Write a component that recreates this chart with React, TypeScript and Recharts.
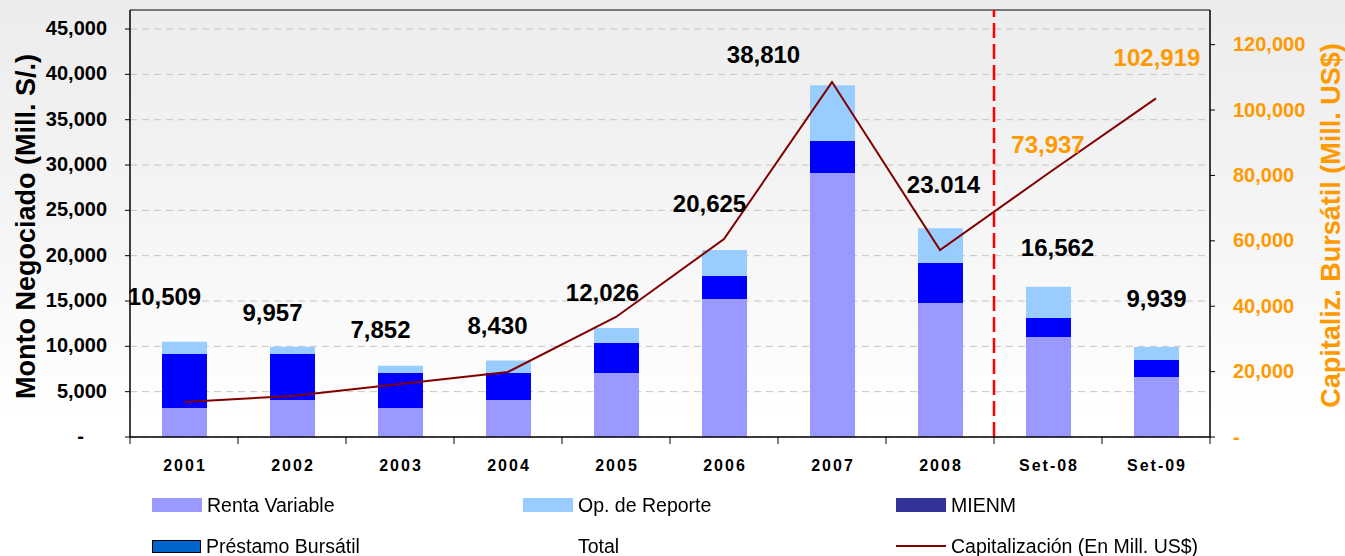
import {
  ComposedChart,
  Bar,
  Line,
  XAxis,
  YAxis,
  CartesianGrid,
  ReferenceLine,
  LabelList,
  Legend,
} from "recharts";

const categories = ["2001", "2002", "2003", "2004", "2005", "2006", "2007", "2008", "Set-08", "Set-09"];
const rentaVariable = [3200, 4080, 3200, 4080, 7060, 15220, 29120, 14780, 11030, 6620];
const rentaFija = [5950, 5075, 3860, 2980, 3310, 2540, 3530, 4410, 2100, 1870];
const opReporte = [1360, 800, 790, 1370, 1656, 2865, 6160, 3824, 3432, 1449];
const capitalizacion = [10700, 12540, 16200, 19900, 36700, 60550, 108560, 57180, 80600, 103580];
const totalLabels = ["10,509", "9,957", "7,852", "8,430", "12,026", "20,625", "38,810", "23.014", "16,562", "9,939"];
const capLabels = ["", "", "", "", "", "", "", "", "73,937", "102,919"];
const leftTicks = [0, 5000, 10000, 15000, 20000, 25000, 30000, 35000, 40000, 45000];
const rightTicks = [0, 20000, 40000, 60000, 80000, 100000, 120000];

const legendItems = [
  { name: "Renta Variable", kind: "box", color: "#9999FF", border: "none" },
  { name: "Op. de Reporte", kind: "box", color: "#99CCFF", border: "none" },
  { name: "MIENM", kind: "box", color: "#333399", border: "none" },
  { name: "Préstamo Bursátil", kind: "box", color: "#0066CC", border: "1.5px solid #000" },
  { name: "Total", kind: "none", color: "transparent", border: "none" },
  { name: "Capitalización (En Mill. US$)", kind: "line", color: "#800000", border: "none" },
];

// hand placed label nudges (dx, dy from bar top / point to text centre)
const totalShift = [[-20, -45], [-20, -34], [-20, -36], [-11, -35], [-14, -35], [-15, -47], [-69, -31], [3, -44], [9, -39], [0, -48]];
const capShift = [[0, 0], [0, 0], [0, 0], [0, 0], [0, 0], [0, 0], [0, 0], [0, 0], [0, -29], [1, -41]];

const FONT = '"Liberation Sans", Arial, sans-serif';
const ORANGE = "#FF9900";
const HALF_BAND = 54;

const data = categories.map((c, i) => ({
  name: c,
  rentaVariable: rentaVariable[i],
  rentaFija: rentaFija[i],
  opReporte: opReporte[i],
  capitalizacion: capitalizacion[i],
}));

const fmt = (v: number) => v.toLocaleString("en-US");

function LeftTick(props: any) {
  const { x, y, payload } = props;
  if (payload.value === 0) {
    return (
      <text x={x - 23} y={y + 6} textAnchor="end" fontSize={20} fontWeight="bold" fill="#000" fontFamily={FONT}>
        -
      </text>
    );
  }
  return (
    <text x={x} y={y + 6} textAnchor="end" fontSize={20} fontWeight="bold" fill="#000" fontFamily={FONT}>
      {fmt(payload.value)}
    </text>
  );
}

function RightTick(props: any) {
  const { x, y, payload } = props;
  return (
    <text x={x} y={y + 6.5} textAnchor="start" fontSize={20} fontWeight="bold" fill={ORANGE} fontFamily={FONT}>
      {payload.value === 0 ? "-" : fmt(payload.value)}
    </text>
  );
}

// category label plus Excel-style tick marks on the band edges
function CatTick(props: any) {
  const { x, y, payload, index } = props;
  const axisY = y - 8;
  const last = index === categories.length - 1;
  return (
    <g>
      <line x1={x - HALF_BAND} x2={x - HALF_BAND} y1={axisY} y2={axisY + 7} stroke="#000" />
      {last && <line x1={x + HALF_BAND} x2={x + HALF_BAND} y1={axisY} y2={axisY + 7} stroke="#000" />}
      <text x={x + 1} y={y + 26} textAnchor="middle" fontSize={16} fontWeight="bold" letterSpacing={2} fill="#000" fontFamily={FONT}>
        {payload.value}
      </text>
    </g>
  );
}

function TotalLabel(props: any) {
  const { x, y, width, index } = props;
  const [dx, dy] = totalShift[index];
  return (
    <text x={x + width / 2 + dx} y={y + dy + 8.5} textAnchor="middle" fontSize={24} fontWeight="bold" fill="#000" fontFamily={FONT}>
      {totalLabels[index]}
    </text>
  );
}

function CapLabel(props: any) {
  const { x, y, index } = props;
  if (!capLabels[index]) return null;
  const [dx, dy] = capShift[index];
  return (
    <text x={x + dx} y={y + dy + 8.5} textAnchor="middle" fontSize={24} fontWeight="bold" fill={ORANGE} fontFamily={FONT}>
      {capLabels[index]}
    </text>
  );
}

function LeftTitle(props: any) {
  const vb = props.viewBox;
  const cx = vb.x + 35;
  const cy = vb.y + vb.height / 2 + 3;
  return (
    <text x={cx} y={cy} transform={`rotate(-90, ${cx}, ${cy})`} textAnchor="middle" fontSize={27} fontWeight="bold" fill="#000" fontFamily={FONT}>
      Monto Negociado (Mill. S/.)
    </text>
  );
}

function RightTitle(props: any) {
  const vb = props.viewBox;
  const cx = vb.x + 130;
  const cy = vb.y + vb.height / 2 + 2;
  return (
    <text x={cx} y={cy} transform={`rotate(-90, ${cx}, ${cy})`} textAnchor="middle" fontSize={27} fontWeight="bold" fill={ORANGE} fontFamily={FONT}>
      Capitaliz. Bursátil (Mill. US$)
    </text>
  );
}

function LegendBox() {
  return (
    <div
      style={{
        display: "grid",
        gridTemplateColumns: "371px 373px 320px",
        gridTemplateRows: "40px 40px",
        rowGap: 1,
        paddingLeft: 152,
        fontFamily: FONT,
        fontSize: 19.5,
        color: "#000",
      }}
    >
      {legendItems.map((it) => (
        <div key={it.name} style={{ display: "flex", alignItems: "center" }}>
          {it.kind === "line" ? (
            <span style={{ width: 50, height: 2, background: it.color, marginRight: 5 }} />
          ) : (
            <span
              style={{
                width: it.border === "none" ? 50 : 47,
                height: it.border === "none" ? 14 : 11,
                background: it.color,
                border: it.border,
                marginRight: 5,
              }}
            />
          )}
          <span>{it.name}</span>
        </div>
      ))}
    </div>
  );
}

export default function App() {
  return (
    <div
      style={{
        position: "fixed",
        left: 0,
        top: 0,
        width: 1345,
        height: 556,
        background: "linear-gradient(to bottom, #ececec 0%, #f5f5f5 40%, #ffffff 75%)",
      }}
    >
      <ComposedChart width={1345} height={556} data={data} margin={{ top: 10, right: 0, bottom: 79, left: 0 }}>
        <CartesianGrid xAxisId="cat" yAxisId="left" vertical={false} stroke="#c4c4c4" strokeDasharray="7 5" />
        <XAxis
          xAxisId="cat"
          dataKey="name"
          height={40}
          axisLine={{ stroke: "#000", strokeWidth: 1.5 }}
          tickLine={false}
          tick={<CatTick />}
          interval={0}
        />
        <YAxis
          yAxisId="left"
          width={130}
          domain={[0, 47100]}
          ticks={leftTicks}
          interval={0}
          axisLine={{ stroke: "#000", strokeWidth: 1.5 }}
          tickLine={{ stroke: "#000" }}
          tickSize={5}
          tickMargin={18}
          tick={<LeftTick />}
          label={{ content: <LeftTitle /> }}
        />
        <YAxis
          yAxisId="right"
          orientation="right"
          width={135}
          domain={[0, 130600]}
          ticks={rightTicks}
          interval={0}
          axisLine={{ stroke: "#000", strokeWidth: 1.5 }}
          tickLine={{ stroke: "#000" }}
          tickSize={5}
          tickMargin={18}
          tick={<RightTick />}
          label={{ content: <RightTitle /> }}
        />
        <ReferenceLine xAxisId="cat" yAxisId="left" y={47100} stroke="#555" strokeWidth={1.5} />
        <Bar xAxisId="cat" yAxisId="left" dataKey="rentaVariable" name="Renta Variable" stackId="a" fill="#9999FF" barSize={45} isAnimationActive={false} />
        <Bar xAxisId="cat" yAxisId="left" dataKey="rentaFija" name="Renta Fija" stackId="a" fill="#0000FF" barSize={45} isAnimationActive={false} />
        <Bar xAxisId="cat" yAxisId="left" dataKey="opReporte" name="Op. de Reporte" stackId="a" fill="#99CCFF" barSize={45} isAnimationActive={false}>
          <LabelList dataKey="opReporte" content={<TotalLabel />} />
        </Bar>
        <Line
          xAxisId="cat"
          yAxisId="right"
          type="linear"
          dataKey="capitalizacion"
          name="Capitalización (En Mill. US$)"
          stroke="#800000"
          strokeWidth={2}
          dot={false}
          activeDot={false}
          isAnimationActive={false}
        >
          <LabelList dataKey="capitalizacion" content={<CapLabel />} />
        </Line>
        <ReferenceLine
          xAxisId="cat"
          yAxisId="left"
          x="2008"
          position="end"
          stroke="#FF0000"
          strokeWidth={2.5}
          strokeDasharray="15 6"
        />
        <Legend
          layout="horizontal"
          verticalAlign="middle"
          align="center"
          wrapperStyle={{ top: 485, left: 0, width: 1345 }}
          content={() => <LegendBox />}
        />
      </ComposedChart>
    </div>
  );
}
